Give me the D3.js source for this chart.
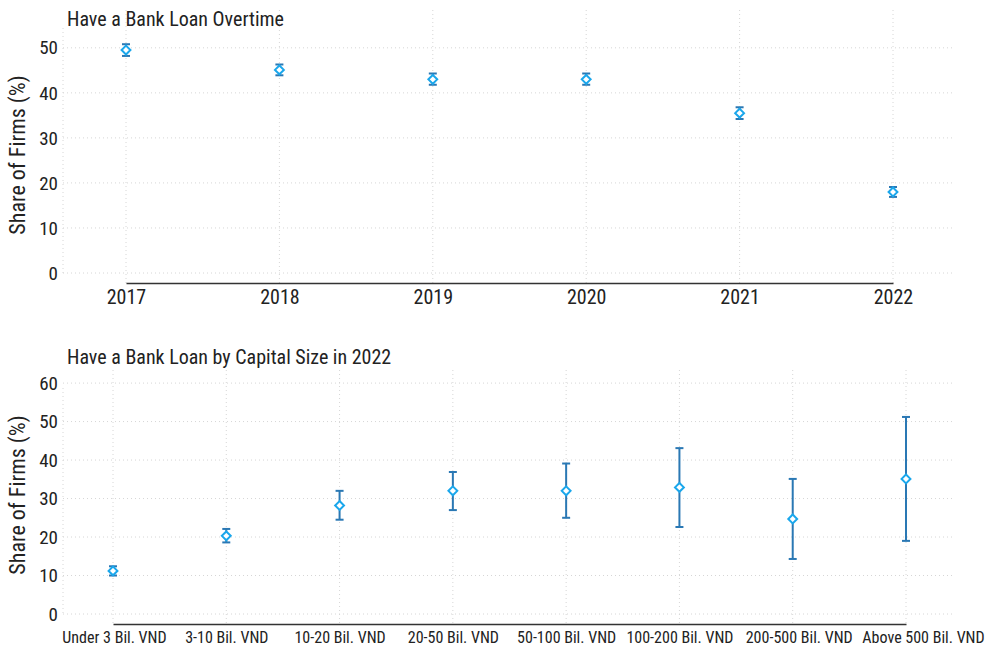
<!DOCTYPE html>
<html>
<head>
<meta charset="utf-8">
<script src="https://cdn.jsdelivr.net/npm/d3@7"></script>
<style>
  html, body { margin: 0; padding: 0; background: #fff; }
  svg text { font-family: "Liberation Sans Narrow", "Roboto Condensed", "Arial Narrow", Roboto, sans-serif; fill: #222; }
</style>
</head>
<body>
<svg id="chart" width="990" height="651"></svg>
<script>
// ---- Data ----
const years = ["2017", "2018", "2019", "2020", "2021", "2022"];
const yearValues = [49.5, 45.1, 43.0, 43.0, 35.5, 18.0];
const yearLow = [48.2, 43.9, 41.8, 41.8, 34.2, 16.9];
const yearHigh = [50.8, 46.3, 44.3, 44.3, 36.8, 19.1];

const sizes = ["Under 3 Bil. VND", "3-10 Bil. VND", "10-20 Bil. VND", "20-50 Bil. VND",
               "50-100 Bil. VND", "100-200 Bil. VND", "200-500 Bil. VND", "Above 500 Bil. VND"];
const sizeValues = [11.2, 20.3, 28.2, 32.0, 32.0, 32.9, 24.7, 35.1];
const sizeLow = [10.0, 18.6, 24.5, 27.0, 25.0, 22.6, 14.3, 19.0];
const sizeHigh = [12.4, 22.1, 32.0, 36.9, 39.1, 43.1, 35.1, 51.2];

const topTicks = [0, 10, 20, 30, 40, 50];
const bottomTicks = [0, 10, 20, 30, 40, 50, 60];

const svg = d3.select("#chart");
const errColor = "#2a78b4";
const markColor = "#1aa7ec";
const FONT = "'Liberation Sans Narrow', 'Roboto Condensed', 'Arial Narrow', Roboto, sans-serif";

function panel(cfg) {
  const g = svg.append("g");
  const x = d3.scalePoint().domain(cfg.cats).range([cfg.x0, cfg.x1]);
  const y = d3.scaleLinear().domain([0, cfg.ymax]).range([cfg.yBottom, cfg.yTop]);

  // horizontal grid
  g.selectAll(".hg").data(cfg.ticks).enter().append("line")
    .attr("x1", cfg.gridLeft).attr("x2", cfg.gridRight)
    .attr("y1", d => y(d)).attr("y2", d => y(d))
    .attr("stroke", "#d6d6d6").attr("stroke-width", 1).attr("stroke-dasharray", "1,3");
  // left edge grid
  g.append("line").attr("x1", cfg.gridLeft).attr("x2", cfg.gridLeft)
    .attr("y1", cfg.yTop + 18).attr("y2", y(0))
    .attr("stroke", "#d6d6d6").attr("stroke-dasharray", "1,3");
  // vertical grid
  g.selectAll(".vg").data(cfg.cats).enter().append("line")
    .attr("x1", d => x(d)).attr("x2", d => x(d))
    .attr("y1", cfg.yTop).attr("y2", cfg.axisY)
    .attr("stroke", "#d6d6d6").attr("stroke-width", 1).attr("stroke-dasharray", "1,3");

  // y tick labels
  g.selectAll(".yl").data(cfg.ticks).enter().append("text")
    .attr("x", 58).attr("y", d => y(d)).attr("dy", "0.35em")
    .attr("text-anchor", "end").attr("font-size", 19).text(d => d);

  // y axis title
  g.append("text")
    .attr("transform", `translate(25,${cfg.yTitleC}) rotate(-90)`)
    .attr("text-anchor", "middle").attr("font-size", 22).text("Share of Firms (%)");

  // x axis line
  const xAxis = d3.axisBottom(x).tickSize(0).tickPadding(cfg.tickPad);
  const ax = g.append("g").attr("transform", `translate(0,${cfg.axisY})`).call(xAxis);
  ax.select(".domain").attr("stroke", "#333").attr("stroke-width", 1.3);
  ax.selectAll("text").attr("font-size", cfg.xFont).attr("fill", "#222").style("font-family", FONT)
    .attr("dx", (d, i) => (cfg.labelShift ? cfg.labelShift[i] : 0));

  // title
  g.append("text").attr("x", 67).attr("y", cfg.titleY).attr("font-size", 20).text(cfg.title);

  // error bars
  const data = cfg.cats.map((c, i) => ({c, v: cfg.vals[i], lo: cfg.lo[i], hi: cfg.hi[i]}));
  const eb = g.selectAll(".eb").data(data).enter().append("g");
  eb.append("line").attr("x1", d => x(d.c)).attr("x2", d => x(d.c))
    .attr("y1", d => y(d.lo)).attr("y2", d => y(d.hi))
    .attr("stroke", errColor).attr("stroke-width", 2);
  eb.append("line").attr("x1", d => x(d.c) - 4).attr("x2", d => x(d.c) + 4)
    .attr("y1", d => y(d.hi)).attr("y2", d => y(d.hi))
    .attr("stroke", errColor).attr("stroke-width", 2);
  eb.append("line").attr("x1", d => x(d.c) - 4).attr("x2", d => x(d.c) + 4)
    .attr("y1", d => y(d.lo)).attr("y2", d => y(d.lo))
    .attr("stroke", errColor).attr("stroke-width", 2);
  // markers (hollow diamonds)
  const sym = d3.symbol().type(d3.symbolDiamond2).size(50);
  eb.append("path").attr("d", sym)
    .attr("transform", d => `translate(${x(d.c)},${y(d.v)})`)
    .attr("fill", "#fff").attr("stroke", markColor).attr("stroke-width", 2);
}

panel({
  cats: years, vals: yearValues, lo: yearLow, hi: yearHigh,
  x0: 126, x1: 893, gridLeft: 63, gridRight: 955,
  ymax: 58.4, yTop: 10, yBottom: 273, axisY: 283,
  ticks: topTicks, tickPad: 7, xFont: 20, yTitleC: 155,
  title: "Have a Bank Loan Overtime", titleY: 26
});

panel({
  cats: sizes, vals: sizeValues, lo: sizeLow, hi: sizeHigh,
  x0: 113, x1: 906, gridLeft: 63, gridRight: 955,
  ymax: 63.4, yTop: 370, yBottom: 614, axisY: 624,
  ticks: bottomTicks, tickPad: 8, xFont: 16, yTitleC: 495,
  labelShift: [1, 0, 0, 0, 0, 0, 6, 17],
  title: "Have a Bank Loan by Capital Size in 2022", titleY: 364
});
</script>
</body>
</html>
